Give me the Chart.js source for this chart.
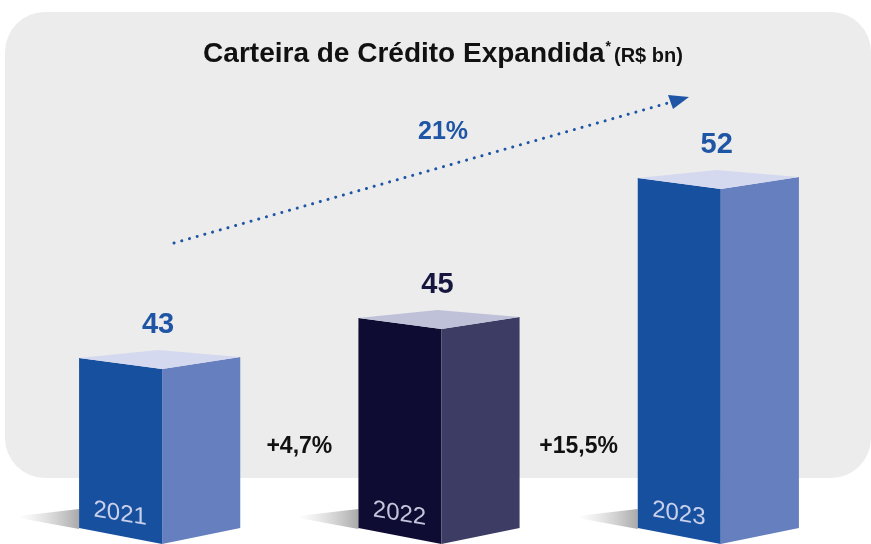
<!DOCTYPE html>
<html>
<head>
<meta charset="utf-8">
<script src="https://cdn.jsdelivr.net/npm/chart.js@4.4.0/dist/chart.umd.min.js"></script>
<style>
    html, body { margin: 0; padding: 0; background: #ffffff; }
    canvas { display: block; }
</style>
</head>
<body>
<canvas id="chart" width="871" height="544"></canvas>
<script>
// Dados
const years = ['2021', '2022', '2023'];
const values = [43, 45, 52];
const growthLabels = ['+4,7%', '+15,5%'];
const cagrLabel = '21%';
const Y_MIN = 34.5;
const Y_MAX = 60;

// Cores de cada barra (frente, lateral, topo, valor, ano)
const frontColors = ['#1850a0', '#0e0c33', '#1850a0'];
const sideColors = ['#6680bf', '#3c3c64', '#6680bf'];
const topColors = ['#d5d9ef', '#bfc1d9', '#d5d9ef'];
const valueColors = ['#1f55a5', '#16163f', '#1f55a5'];
const yearColors = ['#c9d0ea', '#c4c5da', '#c9d0ea'];

const FONT = '"Liberation Sans", Arial, sans-serif';

// Fundo cinza arredondado
const backgroundPlugin = {
    id: 'panel',
    beforeDraw(chart) {
        const ctx = chart.ctx;
        ctx.save();
        ctx.fillStyle = '#ffffff';
        ctx.fillRect(0, 0, chart.width, chart.height);
        ctx.fillStyle = '#ececec';
        ctx.beginPath();
        ctx.roundRect(5, 12, 866, 466, 40);
        ctx.fill();
        ctx.restore();
    }
};

// Desenha as caixas 3D a partir das barras do Chart.js
const boxPlugin = {
    id: 'boxes',
    afterDatasetsDraw(chart) {
        const ctx = chart.ctx;
        const bars = chart.getDatasetMeta(0).data;

        ctx.save();

        bars.forEach((bar, i) => {
            const p = bar.getProps(['x', 'y', 'base', 'width'], true);
            const left = p.x - p.width / 2;
            const right = p.x + p.width / 2;
            const mid = left + p.width * 0.515;
            const back = left + p.width * 0.49;
            const top = p.y;
            const base = p.base;

            // sombra
            const grad = ctx.createLinearGradient(left - 60, 0, left, 0);
            grad.addColorStop(0, 'rgba(200,200,200,0)');
            grad.addColorStop(1, 'rgba(165,165,165,0.95)');
            ctx.fillStyle = grad;
            ctx.beginPath();
            ctx.moveTo(left - 60, base - 12);
            ctx.lineTo(left, base - 19);
            ctx.lineTo(left, base + 1);
            ctx.lineTo(left - 60, base - 10);
            ctx.closePath();
            ctx.fill();

            // frente
            ctx.fillStyle = frontColors[i];
            ctx.beginPath();
            ctx.moveTo(left, top);
            ctx.lineTo(mid, top + 11);
            ctx.lineTo(mid, base + 16);
            ctx.lineTo(left, base);
            ctx.closePath();
            ctx.fill();

            // lateral
            ctx.fillStyle = sideColors[i];
            ctx.beginPath();
            ctx.moveTo(mid, top + 11);
            ctx.lineTo(right, top - 1);
            ctx.lineTo(right, base);
            ctx.lineTo(mid, base + 16);
            ctx.closePath();
            ctx.fill();

            // topo
            ctx.fillStyle = topColors[i];
            ctx.beginPath();
            ctx.moveTo(left, top);
            ctx.lineTo(back, top - 8);
            ctx.lineTo(right, top - 1);
            ctx.lineTo(mid, top + 11);
            ctx.closePath();
            ctx.fill();

            // valor
            ctx.fillStyle = valueColors[i];
            ctx.font = 'bold 29px ' + FONT;
            ctx.textAlign = 'center';
            ctx.textBaseline = 'middle';
            ctx.fillText(String(values[i]), back, top - 33);

            // ano na face frontal, inclinado
            ctx.save();
            ctx.translate(left + p.width * 0.255, base - 14);
            ctx.transform(1, 0.16, 0, 1, 0, 0);
            ctx.fillStyle = yearColors[i];
            ctx.font = '24px ' + FONT;
            ctx.fillText(years[i], 0, 0);
            ctx.restore();
        });

        // crescimento entre barras
        ctx.fillStyle = '#111111';
        ctx.font = 'bold 23px ' + FONT;
        ctx.textAlign = 'center';
        ctx.textBaseline = 'middle';
        for (let i = 0; i < growthLabels.length; i++) {
            const a = bars[i].x + bars[i].width / 2;
            const b = bars[i + 1].x - bars[i + 1].width / 2;
            ctx.fillText(growthLabels[i], (a + b) / 2, 447);
        }

        ctx.restore();
    }
};

// Título e seta pontilhada
const overlayPlugin = {
    id: 'overlay',
    afterDraw(chart) {
        const ctx = chart.ctx;
        ctx.save();

        // título
        const mainText = 'Carteira de Crédito Expandida';
        const unitText = '(R$ bn)';
        ctx.fillStyle = '#111111';
        ctx.textBaseline = 'alphabetic';
        ctx.textAlign = 'left';
        ctx.font = 'bold 28px ' + FONT;
        const w1 = ctx.measureText(mainText).width;
        ctx.font = 'bold 14px ' + FONT;
        const w2 = ctx.measureText('*').width;
        ctx.font = 'bold 20px ' + FONT;
        const w3 = ctx.measureText(unitText).width;
        let x = 443 - (w1 + w2 + 4 + w3) / 2;
        ctx.font = 'bold 28px ' + FONT;
        ctx.fillText(mainText, x, 62);
        x += w1 + 1;
        ctx.font = 'bold 14px ' + FONT;
        ctx.fillText('*', x, 51);
        x += w2 + 3;
        ctx.font = 'bold 20px ' + FONT;
        ctx.fillText(unitText, x, 62);

        // seta pontilhada
        const x0 = 174, y0 = 243, x1 = 668, y1 = 103;
        ctx.strokeStyle = '#1f55a5';
        ctx.lineWidth = 3;
        ctx.lineCap = 'round';
        ctx.setLineDash([0.1, 7.9]);
        ctx.beginPath();
        ctx.moveTo(x0, y0);
        ctx.lineTo(x1, y1);
        ctx.stroke();
        ctx.setLineDash([]);

        ctx.fillStyle = '#1f55a5';
        ctx.beginPath();
        ctx.moveTo(668, 95);
        ctx.lineTo(689, 97);
        ctx.lineTo(673, 109);
        ctx.closePath();
        ctx.fill();

        ctx.font = 'bold 25px ' + FONT;
        ctx.textAlign = 'center';
        ctx.textBaseline = 'middle';
        ctx.fillText(cagrLabel, 443, 132);

        ctx.restore();
    }
};

new Chart(document.getElementById('chart'), {
    type: 'bar',
    data: {
        labels: years,
        datasets: [{
            data: values,
            base: Y_MIN,
            backgroundColor: 'rgba(0,0,0,0)',
            borderWidth: 0,
            barPercentage: 1,
            categoryPercentage: 0.577
        }]
    },
    options: {
        responsive: false,
        animation: false,
        layout: {
            padding: { left: 20, right: 13, top: 18, bottom: 16 }
        },
        scales: {
            x: { display: false },
            y: { display: false, min: Y_MIN, max: Y_MAX }
        },
        plugins: {
            legend: { display: false },
            tooltip: { enabled: false }
        }
    },
    plugins: [backgroundPlugin, boxPlugin, overlayPlugin]
});
</script>
</body>
</html>
